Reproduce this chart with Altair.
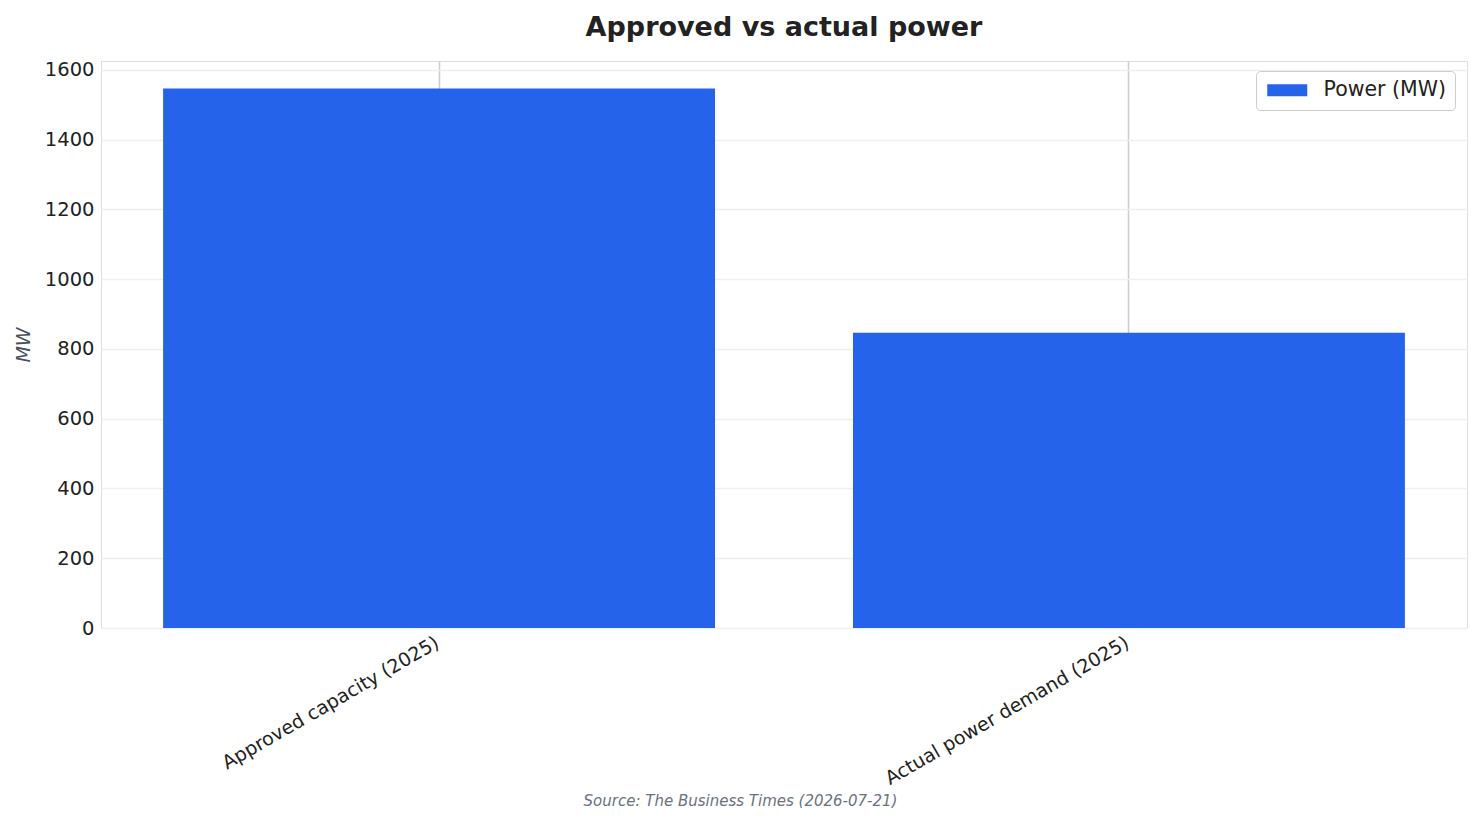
import pandas as pd
import altair as alt

categories = ["Approved capacity (2025)", "Actual power demand (2025)"]
power_mw = [1546, 846]
series = ["Power (MW)", "Power (MW)"]
y_ticks = [0, 200, 400, 600, 800, 1000, 1200, 1400, 1600]

df = pd.DataFrame({"category": categories, "power": power_mw, "series": series})

FONT = "DejaVu Sans"

bars = alt.Chart(df).mark_bar(color="#2563eb").encode(
    x=alt.X(
        "category:N",
        sort=categories,
        scale=alt.Scale(paddingInner=0.2, paddingOuter=0.09),
        axis=alt.Axis(
            title="Source: The Business Times (2026-07-21)",
            titleFont=FONT,
            titleFontSize=15,
            titleFontStyle="italic",
            titleFontWeight="normal",
            titleColor="#6b7280",
            titleX=639,
            titleY=172,
            titleAnchor="start",
            titleAlign="center",
            titleBaseline="middle",
            labelAngle=-30,
            labelAlign="right",
            labelBaseline="top",
            labelFontSize=19,
            labelFont=FONT,
            labelColor="#222222",
            labelPadding=5,
            labelOffset=-6,
            labelLimit=0,
            labelOverlap=False,
            ticks=False,
            domain=False,
            grid=True,
            gridColor="#cccccc",
            gridWidth=1.5,
        ),
    ),
    y=alt.Y(
        "power:Q",
        scale=alt.Scale(domain=[0, 1625], nice=False),
        axis=alt.Axis(
            title="MW",
            titleFont=FONT,
            titleFontSize=19,
            titleFontStyle="italic",
            titleFontWeight="normal",
            titleColor="#4a5060",
            titlePadding=11,
            values=y_ticks,
            format="d",
            labelFont=FONT,
            labelFontSize=19.5,
            labelColor="#222222",
            labelPadding=7,
            ticks=False,
            domain=False,
            grid=True,
            gridColor="#efefef",
            gridWidth=1.5,
        ),
    ),
    color=alt.Color(
        "series:N",
        scale=alt.Scale(range=["#2563eb"]),
        legend=alt.Legend(
            title=None,
            orient="none",
            legendX=1155,
            legendY=10,
            padding=9,
            fillColor="white",
            strokeColor="#cccccc",
            cornerRadius=4,
            symbolType="M-2,-0.6H2V0.6H-2Z",
            symbolSize=400,
            symbolStrokeWidth=0,
            symbolOffset=12,
            labelFont=FONT,
            labelFontSize=20.5,
            labelColor="#222222",
            labelOffset=26,
        ),
    ),
)

chart = bars.properties(
    width=1366,
    height=567,
    padding={"left": 93, "top": 53, "right": 8, "bottom": 180},
    autosize=alt.AutoSizeParams(type="none"),
    title=alt.Title(
        "Approved vs actual power",
        font=FONT,
        fontSize=27,
        fontWeight="bold",
        color="#222222",
        anchor="middle",
        offset=18,
    ),
).configure_view(
    stroke="#c8c8c8",
    strokeWidth=2,
).configure(background="white")

chart.save("out.html", embed_options={"renderer": "svg", "actions": False})
